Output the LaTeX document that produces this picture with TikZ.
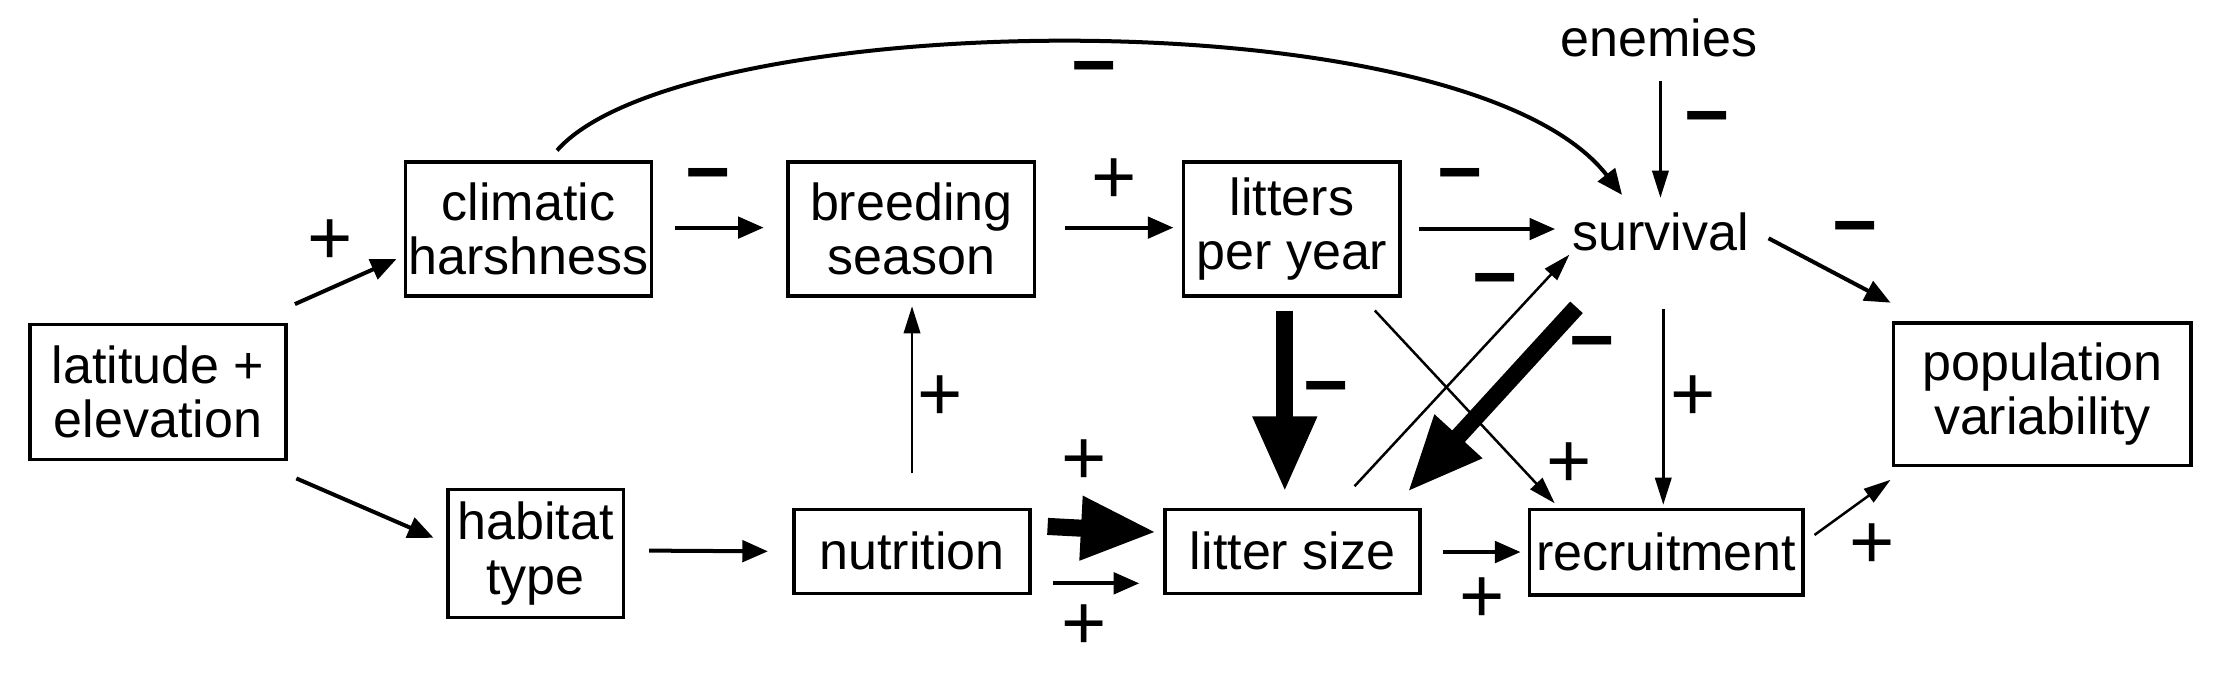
\documentclass[tikz,border=0pt]{standalone}
\usepackage{fontspec}
\setmainfont{Liberation Sans}
\usetikzlibrary{arrows.meta,calc}
\begin{document}
\begin{tikzpicture}[x=0.01cm,y=-0.01cm,
  box/.style={draw,line width=0.7pt,inner sep=0pt,align=center,font=\fontsize{10.4}{10.9}\selectfont},
  lbl/.style={inner sep=0pt,font=\fontsize{10.4}{10.9}\selectfont},
  plus/.style={inner sep=0pt,font=\fontsize{15.5}{15.5}\selectfont},
  minus/.style={inner sep=0pt,font=\fontsize{15.5}{15.5}\selectfont\bfseries},
  med/.style={line width=0.8pt,-{Triangle[length=0.18cm,width=0.15cm]}},
  fine/.style={line width=0.5pt,-{Triangle[length=0.19cm,width=0.115cm]}},
  heavy/.style={line width=0.12cm,-{Triangle[length=0.53cm,width=0.42cm]}}
]
\useasboundingbox (0,0) rectangle (1568,486);

% nodes
\node[box,minimum width=1.80cm,minimum height=0.95cm] (lat) at (111,275.5) {latitude +\\elevation};
\node[box,minimum width=1.73cm,minimum height=0.94cm] (clim) at (371.5,161) {climatic\\harshness};
\node[box,minimum width=1.73cm,minimum height=0.94cm] (breed) at (640.5,161) {breeding\\season};
\node[box,minimum width=1.52cm,minimum height=0.94cm] (litters) at (908,161) {litters\\per year};
\node[lbl] (surv) at (1167,163) {survival};
\node[lbl] (enem) at (1166,27) {enemies};
\node[box,minimum width=2.09cm,minimum height=1.00cm] (popvar) at (1435.5,277) {population\\variability};
\node[box,minimum width=1.23cm,minimum height=0.90cm] (habitat) at (376.5,389) {habitat\\type};
\node[box,minimum width=1.66cm,minimum height=0.59cm] (nutr) at (641,387.5) {nutrition};
\node[box,minimum width=1.79cm,minimum height=0.59cm] (lsize) at (908.5,387.5) {litter size};
\node[box,minimum width=1.92cm,minimum height=0.60cm] (recr) at (1171,388) {recruitment};

% connectors
\draw[med] ($(lat.north east)+(5,-13)$) -- ($(clim.west)+(-5,21)$);
\draw[med] ($(lat.south east)+(6,12)$) -- ($(habitat.west)+(-9,-11)$);
\draw[med] ($(clim.east)+(15,-1)$) -- ($(breed.west)+(-16,-1)$);
\draw[med] ($(breed.east)+(20,-1)$) -- ($(litters.west)+(-6,-1)$);
\draw[med] ($(litters.east)+(12,0)$) -- ($(surv)+(-74,-2)$);
\draw[fine] ($(enem)+(1,30)$) -- ($(surv)+(0,-24)$);
\draw[med] ($(clim.north)+(20,-7)$) .. controls (480,5) and (1030,-5) .. ($(surv)+(-27,-26)$);
\draw[med] ($(surv)+(76,4.5)$) -- ($(popvar.north west)+(-1,-13)$);
\draw[fine] ($(surv)+(2,54)$) -- ($(recr.north)+(-2,-2)$);
\draw[heavy] ($(litters.south)+(-5,9)$) -- ($(lsize.north)+(-5.5,-11)$);
\draw[heavy] ($(surv)+(-59,53)$) -- ($(lsize.north east)+(-10,-11)$);
\draw[fine] ($(lsize.north)+(43.5,-15)$) -- ($(surv)+(-64,16)$);
\draw[fine] ($(litters.south east)+(-19,9)$) -- ($(recr.north west)+(19,-3)$);
\draw[fine] ($(nutr.north)+(0,-24)$) -- ($(breed.south)+(0.5,6)$);
\draw[med] ($(habitat.east)+(17,-2)$) -- ($(nutr.west)+(-17,0)$);
\draw[heavy] ($(nutr.east)+(11,-17.5)$) -- ($(lsize.west)+(-5,-13.5)$);
\draw[med] ($(nutr.east)+(15,22.5)$) -- ($(lsize.west)+(-17,22.5)$);
\draw[med] ($(lsize.east)+(15,0.5)$) -- ($(recr.west)+(-5,0)$);
\draw[fine] ($(recr.east)+(7,-12)$) -- ($(popvar.south west)+(-1,9)$);

% signs
\node[plus] (s1) at (232,170) {+};
\node[minus] (s2) at (498,129) {−};
\node[plus] (s3) at (783,127) {+};
\node[minus] (s4) at (1026,129) {−};
\node[minus] (s5) at (1200,89) {−};
\node[minus] (s6) at (769,54) {−};
\node[minus] (s7) at (1304,166) {−};
\node[plus] (s8) at (1190,280) {+};
\node[minus] (s9) at (932,279) {−};
\node[minus] (s10) at (1119,247) {−};
\node[minus] (s11) at (1051,203) {−};
\node[plus] (s12) at (1103,327) {+};
\node[plus] (s13) at (661,280) {+};
\node[plus] (s14) at (762,325) {+};
\node[plus] (s15) at (762,441) {+};
\node[plus] (s16) at (1042,422) {+};
\node[plus] (s17) at (1316,384) {+};
\end{tikzpicture}
\end{document}
